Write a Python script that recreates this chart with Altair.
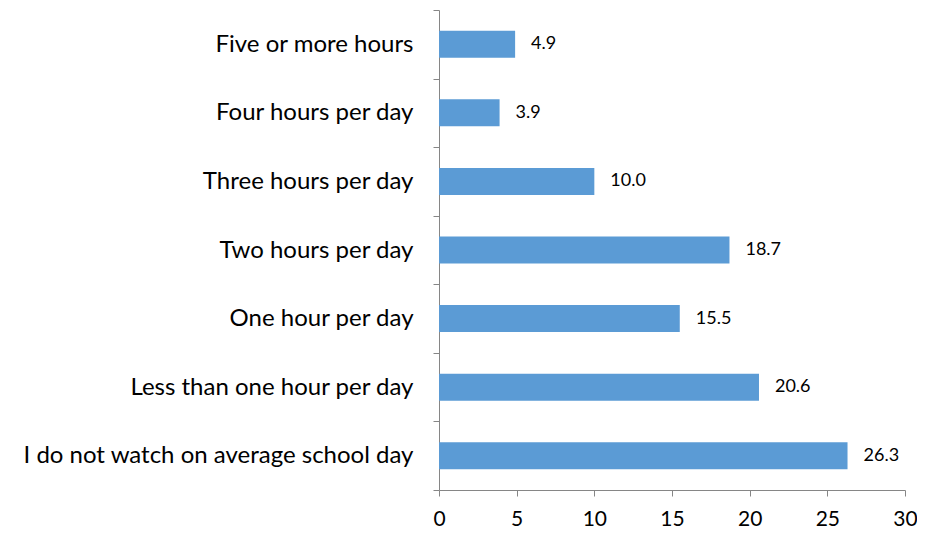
import altair as alt
import pandas as pd

categories = [
    "Five or more hours",
    "Four hours per day",
    "Three hours per day",
    "Two hours per day",
    "One hour per day",
    "Less than one hour per day",
    "I do not watch on average school day",
]
values = [4.9, 3.9, 10.0, 18.7, 15.5, 20.6, 26.3]
x_ticks = [0, 5, 10, 15, 20, 25, 30]

df = pd.DataFrame({"cat": categories, "val": values})
df["label"] = [f"{v:.1f}" for v in values]

FONT = "Lato"

y_enc = alt.Y(
    "cat:N",
    sort=categories,
    scale=alt.Scale(paddingInner=0, paddingOuter=0),
    axis=alt.Axis(
        title=None,
        labelFont=FONT,
        labelFontSize=24,
        labelColor="#000000",
        labelPadding=20,
        tickSize=6,
        tickBand="extent",
        tickColor="#868686",
        domainColor="#868686",
        labelLimit=500,
    ),
)

x_enc = alt.X(
    "val:Q",
    scale=alt.Scale(domain=[0, 30], nice=False),
    axis=alt.Axis(
        title=None,
        values=x_ticks,
        grid=False,
        labelFlush=False,
        labelFont=FONT,
        labelFontSize=21,
        labelColor="#000000",
        labelPadding=12,
        tickSize=6,
        tickColor="#868686",
        domainColor="#868686",
    ),
)

bars = alt.Chart(df).mark_bar(color="#5B9BD5", height=27).encode(x=x_enc, y=y_enc)
text = alt.Chart(df).mark_text(
    align="left", baseline="middle", dx=16, font=FONT, fontSize=18, color="#000000"
).encode(x="val:Q", y=alt.Y("cat:N", sort=categories), text="label:N")

chart = (
    alt.layer(bars, text)
    .properties(
        width=466,
        height=480,
        background="#ffffff",
        autosize=alt.AutoSizeParams(type="none"),
        padding={"left": 431, "top": 2, "right": 12, "bottom": 44},
    )
    .configure_view(strokeWidth=0, stroke=None)
)

chart.save("out.html", embed_options={"renderer": "svg", "actions": False})
